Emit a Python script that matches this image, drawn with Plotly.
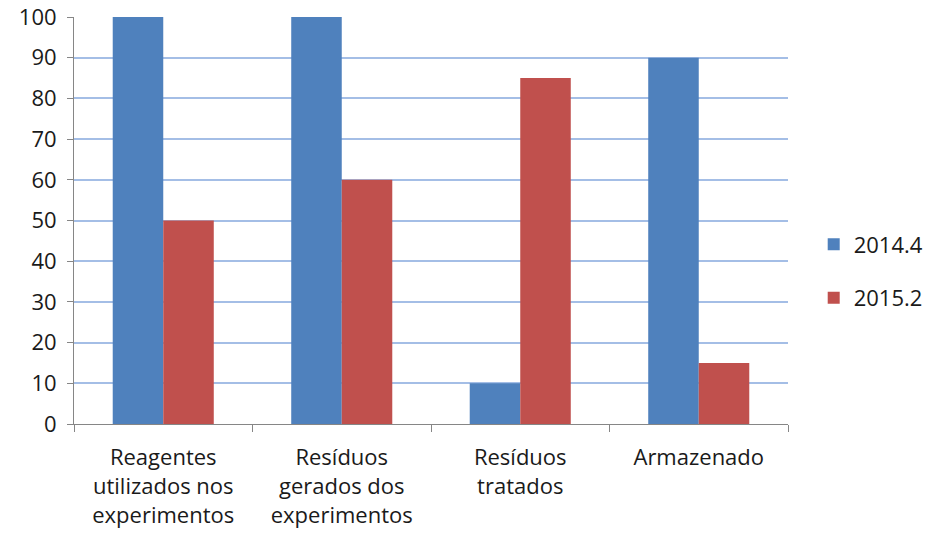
import plotly.graph_objects as go

categories = ["Reagentes<br>utilizados nos<br>experimentos",
              "Resíduos<br>gerados dos<br>experimentos",
              "Resíduos<br>tratados",
              "Armazenado"]
series_2014_4 = [100, 100, 10, 90]
series_2015_2 = [50, 60, 85, 15]
y_ticks = [0, 10, 20, 30, 40, 50, 60, 70, 80, 90, 100]

FONT = "Open Sans"
TXT = "#1a1a1a"
fig = go.Figure()
fig.add_trace(go.Bar(name="2014.4", x=categories, y=series_2014_4,
                     marker=dict(color="#4F81BD", line=dict(width=0)),
                     legendgroup="a"))
fig.add_trace(go.Bar(name="2015.2", x=categories, y=series_2015_2,
                     marker=dict(color="#C0504D", line=dict(width=0)),
                     legendgroup="b"))

fig.update_layout(
    width=929, height=535,
    margin=dict(l=74, r=141, t=17, b=111, autoexpand=False),
    paper_bgcolor="white", plot_bgcolor="white",
    barmode="group", bargap=0.434, bargroupgap=0,
    font=dict(family=FONT, size=22, color=TXT),
    showlegend=True,
    legend=dict(x=1.036, y=0.375, xref="paper", xanchor="left", yanchor="middle",
                font=dict(family=FONT, size=22, color=TXT),
                tracegroupgap=22, itemwidth=30,
                traceorder="grouped"),
    xaxis=dict(showline=True, linecolor="#868686", linewidth=1,
               ticks="outside", ticklen=7, tickcolor="#868686",
               tickson="boundaries", showgrid=False, automargin=False,
               ticklabelstandoff=14,
               tickfont=dict(family=FONT, size=22, color=TXT)),
    yaxis=dict(range=[0, 100], tickvals=y_ticks, showline=True,
               linecolor="#868686", linewidth=1, ticks="outside",
               ticklen=6, tickcolor="#868686", showgrid=True,
               gridcolor="#A4BEE6", gridwidth=2, zeroline=False,
               automargin=False, ticklabelstandoff=6,
               tickfont=dict(family=FONT, size=22, color=TXT)),
)

fig.write_html("out.html")
